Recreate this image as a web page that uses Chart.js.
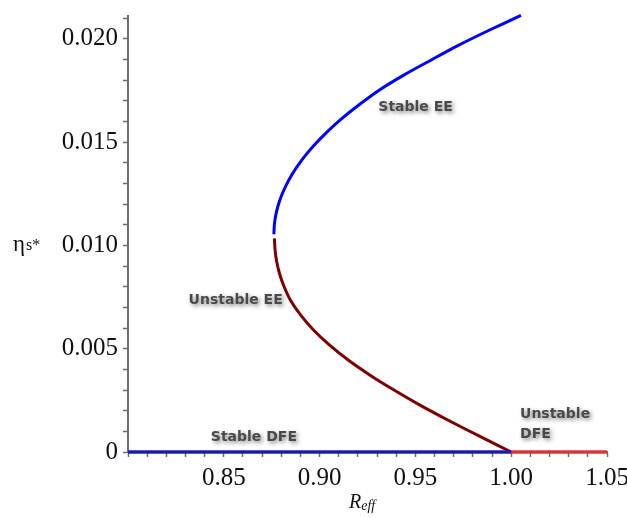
<!DOCTYPE html>
<html>
<head>
<meta charset="utf-8">
<script src="https://cdn.jsdelivr.net/npm/chart.js@4/dist/chart.umd.min.js"></script>
<style>
  html, body { margin: 0; padding: 0; background: #ffffff; }
  #wrap { width: 627px; height: 518px; position: relative; }
</style>
</head>
<body>
<div id="wrap"><canvas id="c" width="627" height="518"></canvas></div>
<script>
// Bifurcation diagram: equilibrium eta_s* against R_eff

// Stable endemic equilibrium (upper branch)
const stableEE_R   = [0.87615, 0.87641, 0.87720, 0.87851, 0.88035, 0.88270, 0.88559, 0.88899, 0.89293, 0.89738,
                      0.90236, 0.91079, 0.92044, 0.93124, 0.94392, 0.95802, 0.97264, 0.98847, 1.00510];
const stableEE_eta = [0.01054, 0.01102, 0.01150, 0.01198, 0.01246, 0.01294, 0.01343, 0.01391, 0.01439, 0.01487,
                      0.01535, 0.01607, 0.01679, 0.01752, 0.01824, 0.01896, 0.01969, 0.02041, 0.02113];

// Unstable endemic equilibrium (lower branch)
const unstableEE_R   = [0.87641, 0.87678, 0.87767, 0.87919, 0.88139, 0.88480, 0.89015, 0.89680,
                        0.90508, 0.91491, 0.92615, 0.93863, 0.95215, 0.96662, 0.98291, 1.00000];
const unstableEE_eta = [0.01034, 0.00976, 0.00918, 0.00860, 0.00802, 0.00734, 0.00662, 0.00590,
                        0.00518, 0.00445, 0.00373, 0.00301, 0.00228, 0.00156, 0.00079, 0.0];

// Disease-free equilibrium
const stableDFE_R     = [0.80, 1.00];
const stableDFE_eta   = [0, 0];
const unstableDFE_R   = [1.00, 1.05];
const unstableDFE_eta = [0, 0];

// Tick labels (a labelled major tick every 5 minor steps)
const xTickLabels = ['0.85', '0.90', '0.95', '1.00', '1.05'];
const yTickLabels = ['0', '0.005', '0.010', '0.015', '0.020'];

const pts = (xs, ys) => xs.map((x, i) => ({ x: x, y: ys[i] }));

const AXIS_GREY = '#6e6e6e';
const TICK_FONT = { family: '"Liberation Serif", "Times New Roman", serif', size: 25 };

// Region labels and axis titles
const labelPlugin = {
  id: 'regionLabels',
  afterDatasetsDraw(chart) {
    const ctx = chart.ctx;
    const xs = chart.scales.x, ys = chart.scales.y;
    const put = (text, xv, yv) => {
      ctx.fillText(text, xs.getPixelForValue(xv), ys.getPixelForValue(yv));
    };
    ctx.save();
    ctx.font = 'bold 14px "DejaVu Sans", Verdana, sans-serif';
    ctx.fillStyle = '#4a4a4a';
    ctx.shadowColor = 'rgba(0,0,0,0.5)';
    ctx.shadowBlur = 4;
    ctx.shadowOffsetX = 2;
    ctx.shadowOffsetY = 2;
    ctx.textBaseline = 'middle';
    ctx.textAlign = 'center';
    put('Stable EE', 0.9501, 0.01666);
    put('Unstable EE', 0.8562, 0.00734);
    put('Stable DFE', 0.8657, 0.00069);
    ctx.textAlign = 'left';
    put('Unstable', 1.0046, 0.00180);
    put('DFE', 1.0046, 0.00083);
    ctx.restore();
  },
  afterDraw(chart) {
    const ctx = chart.ctx;
    ctx.save();
    ctx.fillStyle = '#111111';
    ctx.textBaseline = 'alphabetic';
    ctx.textAlign = 'left';
    // y-axis title: eta_s*
    ctx.font = '23px "Liberation Serif", serif';
    ctx.fillText('η', 13, 251);
    const w = ctx.measureText('η').width;
    ctx.font = '16px "Liberation Serif", serif';
    ctx.fillText('s*', 13 + w + 1, 250);
    // x-axis title: R_eff
    ctx.font = 'italic 20px "Liberation Serif", serif';
    ctx.fillText('R', 349, 508);
    const wr = ctx.measureText('R').width;
    ctx.font = 'italic 14px "Liberation Serif", serif';
    ctx.fillText('eff', 349 + wr, 510);
    ctx.restore();
  }
};

const lineDs = (data, color, width) => ({
  data: data,
  showLine: true,
  borderColor: color,
  backgroundColor: color,
  borderWidth: width,
  pointRadius: 0,
  pointHoverRadius: 0,
  fill: false,
  tension: 0.3,
  borderCapStyle: 'butt',
  clip: false
});

new Chart(document.getElementById('c'), {
  type: 'scatter',
  data: {
    datasets: [
      lineDs(pts(stableDFE_R, stableDFE_eta), '#1c1ca6', 3.5),
      lineDs(pts(unstableDFE_R, unstableDFE_eta), '#dd3535', 3.5),
      lineDs(pts(stableEE_R, stableEE_eta), '#0000ff', 3),
      lineDs(pts(unstableEE_R, unstableEE_eta), '#800000', 3)
    ]
  },
  options: {
    responsive: false,
    animation: false,
    events: [],
    layout: { padding: { left: 0, right: 20, top: 16, bottom: 0 } },
    plugins: { legend: { display: false }, tooltip: { enabled: false } },
    scales: {
      x: {
        type: 'linear',
        min: 0.8,
        max: 1.05,
        afterFit(s) { s.height = 66; s.paddingLeft = 0; s.paddingRight = 0; },
        border: { display: true, color: AXIS_GREY, width: 2 },
        grid: { drawOnChartArea: false, drawTicks: true, tickLength: 5, tickColor: AXIS_GREY, tickWidth: 1.5 },
        ticks: {
          stepSize: 0.01,
          includeBounds: false,
          autoSkip: false,
          maxRotation: 0,
          padding: 6,
          color: '#111111',
          font: TICK_FONT,
          callback(v) {
            const idx = Math.round((v - 0.8) / 0.01);
            if (idx > 0 && idx % 5 === 0) return xTickLabels[idx / 5 - 1];
            return '';
          }
        }
      },
      y: {
        type: 'linear',
        min: 0,
        max: 0.0211,
        afterFit(s) { s.width = 128; s.paddingTop = 0; s.paddingBottom = 0; },
        border: { display: true, color: AXIS_GREY, width: 2 },
        grid: { drawOnChartArea: false, drawTicks: true, tickLength: 5, tickColor: AXIS_GREY, tickWidth: 1.5 },
        ticks: {
          stepSize: 0.001,
          includeBounds: false,
          autoSkip: false,
          padding: 5,
          color: '#111111',
          font: TICK_FONT,
          callback(v) {
            const idx = Math.round(v / 0.001);
            if (idx % 5 === 0) return yTickLabels[idx / 5];
            return '';
          }
        }
      }
    }
  },
  plugins: [labelPlugin]
});
</script>
</body>
</html>
